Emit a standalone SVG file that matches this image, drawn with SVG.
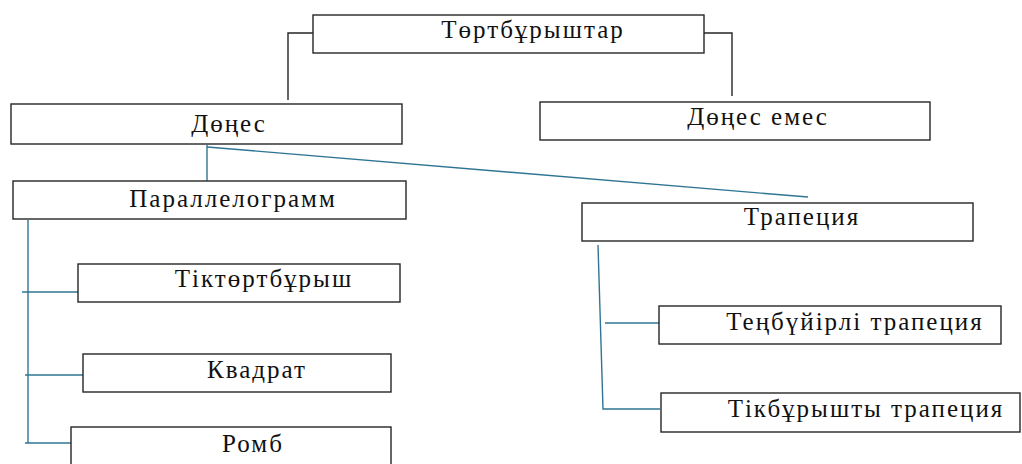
<svg xmlns="http://www.w3.org/2000/svg" width="1022" height="464" viewBox="0 0 1022 464">
<style>
.box{fill:#fff;stroke:#262626;stroke-width:1.4}
.blk{fill:none;stroke:#262626;stroke-width:1.4}
.tl{fill:none;stroke:#2f7593;stroke-width:1.4}
</style>
<rect width="1022" height="464" fill="#fff"/>
<g id="connectors">
<polyline class="blk" points="313,33 288,33 288,100"/>
<polyline class="blk" points="704,33 732,33 732,96"/>
<line class="tl" x1="207" y1="145" x2="207" y2="181"/>
<line class="tl" x1="207" y1="147" x2="808" y2="197"/>
<line class="tl" x1="28" y1="220" x2="28" y2="443"/>
<line class="tl" x1="22" y1="292" x2="78" y2="292"/>
<line class="tl" x1="25" y1="375" x2="83" y2="375"/>
<line class="tl" x1="25" y1="443" x2="78" y2="443"/>
<polyline class="tl" points="598,245 603,409 660,409"/>
<line class="tl" x1="605" y1="323" x2="659" y2="323"/>
</g>
<g font-family="Liberation Serif, serif" font-size="25" fill="#111" letter-spacing="2" text-anchor="middle">
<g id="n-tortburyshtar"><rect class="box" x="313" y="15" width="391" height="38"/><text x="533" y="38">Төртбұрыштар</text></g>
<g id="n-dones"><rect class="box" x="11" y="104" width="391" height="40"/><text x="229" y="132">Дөңес</text></g>
<g id="n-dones-emes"><rect class="box" x="540" y="102" width="390" height="38"/><text x="758" y="125">Дөңес емес</text></g>
<g id="n-parallelogramm"><rect class="box" x="13" y="181" width="393" height="38"/><text x="233" y="207">Параллелограмм</text></g>
<g id="n-tiktortburysh"><rect class="box" x="78" y="264" width="322" height="38"/><text x="264" y="287">Тіктөртбұрыш</text></g>
<g id="n-kvadrat"><rect class="box" x="83" y="354" width="308" height="38"/><text x="257" y="378">Квадрат</text></g>
<g id="n-romb"><rect class="box" x="71" y="427" width="320" height="50"/><text x="253" y="452">Ромб</text></g>
<g id="n-trapeciya"><rect class="box" x="582" y="203" width="391" height="38"/><text x="802" y="225">Трапеция</text></g>
<g id="n-tenbuyirli"><rect class="box" x="659" y="306" width="342" height="38"/><text x="855" y="330">Теңбүйірлі трапеция</text></g>
<g id="n-tikburyshty"><rect class="box" x="661" y="393" width="359" height="39"/><text x="866" y="417">Тікбұрышты трапеция</text></g>
</g>
</svg>
